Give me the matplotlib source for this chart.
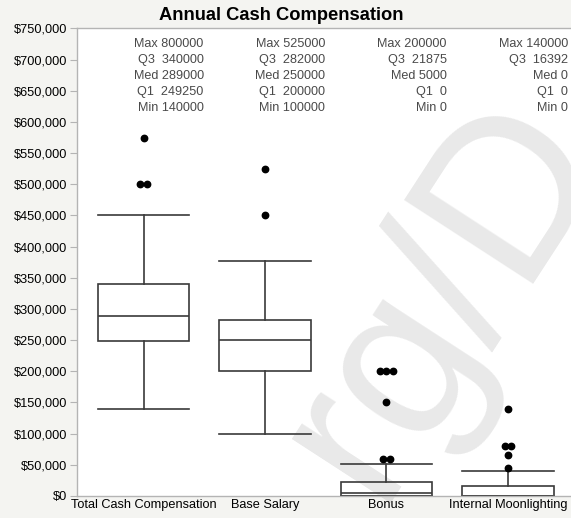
import matplotlib
matplotlib.use("Agg")
import matplotlib.pyplot as plt
from matplotlib.ticker import FuncFormatter

plt.rcParams['font.family'] = ['Liberation Sans', 'DejaVu Sans']

# box plot summaries per pay component
categories = ['Total Cash Compensation', 'Base Salary', 'Bonus', 'Internal Moonlighting']
q1 = [249250, 200000, 0, 0]
med = [289000, 250000, 5000, 0]
q3 = [340000, 282000, 21875, 16392]
whisker_lo = [140000, 100000, 0, 0]
whisker_hi = [450000, 377000, 51000, 40000]
fliers = [
    [575000, 500000, 500000],
    [525000, 450000],
    [200000, 200000, 200000, 150000, 60000, 60000],
    [140000, 80000, 80000, 65000, 45000],
]

# summary text shown above each box
stat_max = ['800000', '525000', '200000', '140000']
stat_q3 = ['340000', '282000', '21875', '16392']
stat_med = ['289000', '250000', '5000', '0']
stat_q1 = ['249250', '200000', '0', '0']
stat_min = ['140000', '100000', '0', '0']

BG = '#f4f4f1'
LINE = '#3a3a3a'
SPINE = '#b4b4b4'

fig = plt.figure(figsize=(5.71, 5.18), dpi=100, facecolor=BG)
ax = fig.add_axes([0.1343, 0.0425, (576 - 76.7) / 571, 0.9025])
ax.set_facecolor('white')

positions = list(range(len(categories)))
stats = []
for i in positions:
    stats.append(dict(med=med[i], q1=q1[i], q3=q3[i],
                      whislo=whisker_lo[i], whishi=whisker_hi[i], fliers=[]))

width = 0.754
line_kw = dict(color=LINE, linewidth=1.2)
ax.bxp(stats, positions=positions, widths=width, capwidths=width,
       patch_artist=True, showfliers=False,
       boxprops=dict(facecolor='none', edgecolor=LINE, linewidth=1.2),
       medianprops=line_kw, whiskerprops=line_kw, capprops=line_kw)

# outliers; repeated values are spread sideways
for i, vals in enumerate(fliers):
    seen = {}
    for v in vals:
        seen[v] = seen.get(v, 0) + 1
    for v, n in seen.items():
        step = 0.05 if n > 2 else 0.052
        offs = [(k - (n - 1) / 2) * step for k in range(n)]
        ax.plot([i + o for o in offs], [v] * n, 'o', color='black',
                markersize=4.6, zorder=5)

# stats columns
for i in positions:
    lines = ['Max ' + stat_max[i], 'Q3  ' + stat_q3[i], 'Med ' + stat_med[i],
             'Q1  ' + stat_q1[i], 'Min ' + stat_min[i]]
    for k, s in enumerate(lines):
        ax.text(i + 0.495, 725000 - k * 25700, s, ha='right', va='center',
                fontsize=9.1, color='#4a4a4a')

ax.set_xlim(-0.55, 3.56)
ax.set_ylim(0, 750000)
ax.set_yticks(range(0, 750001, 50000))
ax.yaxis.set_major_formatter(FuncFormatter(lambda v, p: '${:,.0f}'.format(v)))
ax.set_xticks(positions)
ax.set_xticklabels(categories)
ax.tick_params(axis='y', length=5, width=0.8, color=SPINE, labelsize=9.2, pad=2)
ax.tick_params(axis='x', length=0, labelsize=9.2, pad=2.5)

for side in ['left', 'bottom', 'top']:
    ax.spines[side].set_color(SPINE)
    ax.spines[side].set_linewidth(1.0)
ax.spines['right'].set_visible(False)

fig.text(0.492, 0.971, 'Annual Cash Compensation', ha='center', va='center',
         fontsize=13.2, fontweight='bold')

# faint watermark behind the boxes, running off the lower right
ax.text(0.775, 0.43, 'rg/D', transform=fig.transFigure, rotation=57,
        ha='center', va='center', fontsize=160, color='black', alpha=0.09,
        zorder=0.5, clip_on=False)

fig.savefig('out.png', dpi=100, facecolor=BG)
